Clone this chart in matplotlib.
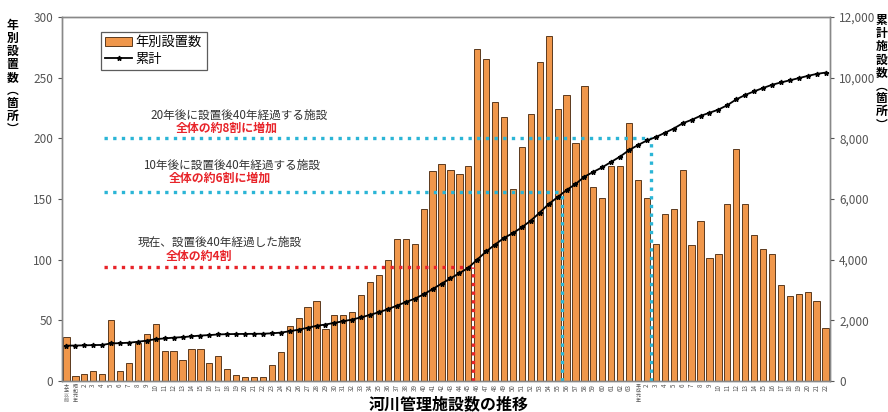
import numpy as np
import matplotlib
matplotlib.use("Agg")
import matplotlib.pyplot as plt
from matplotlib.ticker import FuncFormatter

plt.rcParams['font.family'] = ['Noto Sans CJK JP', 'DejaVu Sans']

# year labels: before Taisho, Showa 1-63, Heisei 1-22
years = (['大正以前', '昭和元年'] + [str(i) for i in range(2, 64)]
         + ['平成元年'] + [str(i) for i in range(2, 23)])

# facilities installed per year
installed = [36, 4, 6, 8, 6, 50, 8, 15, 31, 39, 47, 25, 25, 17, 26, 26, 15, 21,
             10, 5, 3, 3, 3, 13, 24, 45, 52, 61, 66, 43, 54, 54, 57, 71, 82, 87,
             100, 117, 117, 113, 142, 173, 179, 174, 171, 177, 274, 265, 230,
             218, 158, 193, 220, 263, 284, 224, 236, 196, 243, 160, 151, 177,
             177, 213, 166, 151, 113, 138, 142, 174, 112, 132, 101, 105, 146,
             191, 146, 120, 109, 105, 79, 70, 72, 73, 66, 44]

# facilities with unknown installation year, counted from the start
prior_total = 1130
cumulative = prior_total + np.cumsum(installed)

# 40-year guide lines: (last counted year index, level on left axis, colour, caption, highlight)
guides = [
    (45, 94, '#E8242A', '現在、設置後40年経過した施設', '全体の約4割'),
    (55, 155.5, '#2BB5D6', '10年後に設置後40年経過する施設', '全体の約6割に増加'),
    (65, 200, '#2BB5D6', '20年後に設置後40年経過する施設', '全体の約8割に増加'),
]
caption_pos = {45: (17.2, 114.6, 14.8, 103),
               55: (18.5, 178, 17.2, 167),
               65: (19.3, 219, 17.9, 208.5)}

fig = plt.figure(figsize=(8.88, 4.12), dpi=100)
ax = fig.add_axes([0.0698, 0.0752, 0.8649, 0.8835])
x = np.arange(len(installed))

ax.bar(x, installed, width=0.7, color='#F0974B', edgecolor='#5C3A1E',
       linewidth=0.7, label='年別設置数', zorder=2)
ax.set_xlim(-0.5, len(installed) - 0.5)
ax.set_ylim(0, 300)
ax.set_yticks(range(0, 301, 50))

ax2 = ax.twinx()
ax2.plot(x, cumulative, color='black', linewidth=1.3, marker='*',
         markersize=3.5, label='累計', zorder=3)
ax2.set_ylim(0, 12000)
ax2.set_yticks(range(0, 12001, 2000))
ax2.yaxis.set_major_formatter(FuncFormatter(lambda v, p: f'{int(v):,}'))

for idx, level, col, cap, hl in guides:
    ax.plot([4.2, idx + 0.5], [level, level], color=col, linestyle=(0, (1, 1.6)),
            linewidth=2.4, zorder=4)
    ax.plot([idx + 0.5, idx + 0.5], [0, level], color=col, linestyle=(0, (1, 1.6)),
            linewidth=2.4, zorder=4)
    cx, cy, hx, hy = caption_pos[idx]
    ax.text(cx, cy, cap, fontsize=8.4, color='#333333', ha='center', va='center')
    ax.text(hx, hy, hl, fontsize=8.6, color='#E8242A', fontweight='bold',
            ha='center', va='center')

# era names are stacked vertically, year numbers turned sideways
tick_text = [y if y.isdigit() else '\n'.join(y) for y in years]
ax.set_xticks(x)
ax.set_xticklabels(tick_text, va='top')
for lab in ax.get_xticklabels():
    if lab.get_text().isdigit():
        lab.set_rotation(90)
        lab.set_fontsize(4.5)
    else:
        lab.set_fontsize(3.6)
        lab.set_linespacing(0.9)
ax.tick_params(axis='x', length=0, pad=2, colors='#555555')
ax.tick_params(axis='y', length=3, labelsize=8.5, colors='#555555')
ax2.tick_params(axis='y', length=3, labelsize=8.5, colors='#555555')

for a in (ax, ax2):
    for s in a.spines.values():
        s.set_color('#888888')
        s.set_linewidth(1.0)

h1, l1 = ax.get_legend_handles_labels()
h2, l2 = ax2.get_legend_handles_labels()
leg = ax2.legend(h1 + h2, l1 + l2, loc='upper left', bbox_to_anchor=(0.042, 0.978),
                 fontsize=9.5, frameon=True, fancybox=False, borderpad=0.35,
                 handlelength=2.0, handletextpad=0.3, labelspacing=0.25)
leg.get_frame().set_edgecolor('#333333')
leg.get_frame().set_linewidth(0.9)

fig.text(0.014, 0.955, '\n'.join('年別設置数︵箇所︶'), fontsize=8.5,
         fontweight='bold', ha='center', va='top', linespacing=1.0)
fig.text(0.993, 0.965, '\n'.join('累計施設数︵箇所︶'), fontsize=8.5,
         fontweight='bold', ha='center', va='top', linespacing=1.0)
fig.text(0.505, 0.018, '河川管理施設数の推移', fontsize=11.5, fontweight='bold',
         ha='center', va='center')

fig.savefig('out.png', dpi=100)
